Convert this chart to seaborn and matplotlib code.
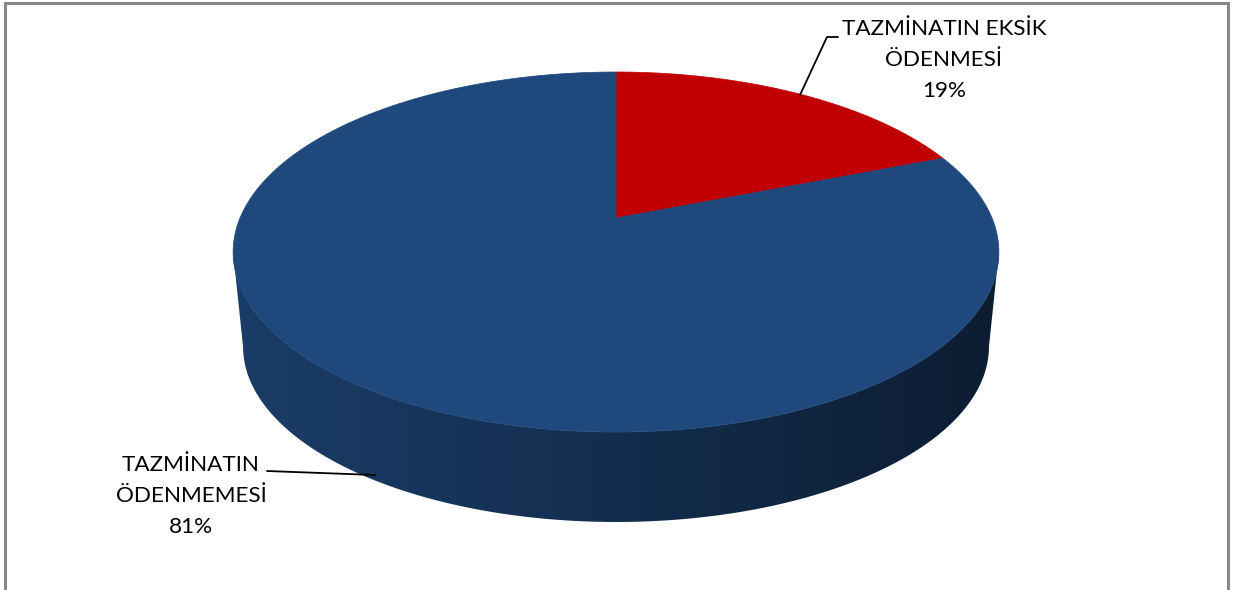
import numpy as np
import matplotlib
matplotlib.use("Agg")
import matplotlib.pyplot as plt
from matplotlib.patches import Polygon
from matplotlib.colors import LinearSegmentedColormap, to_rgb
import seaborn as sns

# ==============================
# DATA
# ==============================
categories = ["TAZMİNATIN EKSİK\nÖDENMESİ", "TAZMİNATIN\nÖDENMEMESİ"]
values = [19, 81]
slice_colors = ["#C00000", "#1F497D"]

sns.set_theme(style="white")
plt.rcParams['font.family'] = ['Lato', 'DejaVu Sans']

# ==============================
# 3D PIE GEOMETRY (pixel space)
# ==============================
CX, CY = 616, 218        # apex of the pie on the top face
A, B = 376, 173.6        # semi axes
K = 0.189                # perspective factor
S, D = 0.974, 95.5       # bottom face scale + depth


def proj(theta, r=1.0, bottom=False):
    t = np.radians(theta)
    u, v = r * np.cos(t), r * np.sin(t)
    w = 1 + K * v
    s = S if bottom else 1.0
    dy = D if bottom else 0.0
    return CX + A * s * u / w, CY + dy - B * s * v / w


fig = plt.figure(figsize=(12.35, 5.9), dpi=100)
ax = fig.add_axes([0, 0, 1, 1])
ax.set_xlim(0, 1235)
ax.set_ylim(590, 0)
ax.axis('off')

# slice angles: start at 12 o'clock, clockwise
fracs = np.array(values) / sum(values)
ends = 90 - np.cumsum(fracs) * 360
starts = np.concatenate([[90], ends[:-1]])

# front wall visible between the two silhouette angles
sil = np.degrees(np.arcsin(K))
front_lo, front_hi = 180 + sil, 360 - sil

for i, (s0, e0) in enumerate(zip(starts, ends)):
    # slice spans angles e0..s0 (mod 360); find overlap with front wall
    lo, hi = e0, s0
    while hi < front_lo:
        lo += 360
        hi += 360
    a0, a1 = max(lo, front_lo), min(hi, front_hi)
    if a1 <= a0:
        continue
    th = np.linspace(a0, a1, 200)
    top = [proj(t) for t in th]
    bot = [proj(t, bottom=True) for t in th[::-1]]
    side = Polygon(top + bot, closed=True, facecolor='none', edgecolor='none')
    ax.add_patch(side)
    base = np.array(to_rgb(slice_colors[i]))
    cmap = LinearSegmentedColormap.from_list(
        f"side{i}", [base * 0.84, base * 0.62, base * 0.40])
    grad = np.linspace(0, 1, 512)[None, :]
    im = ax.imshow(grad, cmap=cmap, aspect='auto',
                   extent=[CX - A * 1.02, CX + A * 1.02, CY + D + B * 1.3, CY - B],
                   interpolation='bilinear', zorder=1)
    im.set_clip_path(side)
    ax.set_xlim(0, 1235)
    ax.set_ylim(590, 0)

# top faces
for i, (s0, e0) in enumerate(zip(starts, ends)):
    th = np.linspace(s0, e0, 300)
    pts = [(CX, CY)] + [proj(t) for t in th]
    ax.add_patch(Polygon(pts, closed=True, facecolor=slice_colors[i],
                         edgecolor=slice_colors[i], lw=0.5, zorder=2))

# ==============================
# LABELS
# ==============================
label_pos = [(944, 60), (191, 496)]
for i, (cat, val) in enumerate(zip(categories, values)):
    ax.text(label_pos[i][0], label_pos[i][1], f"{cat}\n{val}%",
            ha='center', va='center', multialignment='center',
            fontsize=16.2, linespacing=1.7, color='black', zorder=3)

ax.plot([838, 827, 800], [37, 37, 95], color='black', lw=1.3, zorder=3)
ax.plot([267, 375], [471, 475], color='black', lw=1.3, zorder=3)

# chart frame
ax.plot([5, 5, 1228, 1228], [590, 3, 3, 590], color='#878787', lw=2.2,
        solid_joinstyle='miter', zorder=3)

plt.savefig('out.png', dpi=100, facecolor='white')
plt.close()
